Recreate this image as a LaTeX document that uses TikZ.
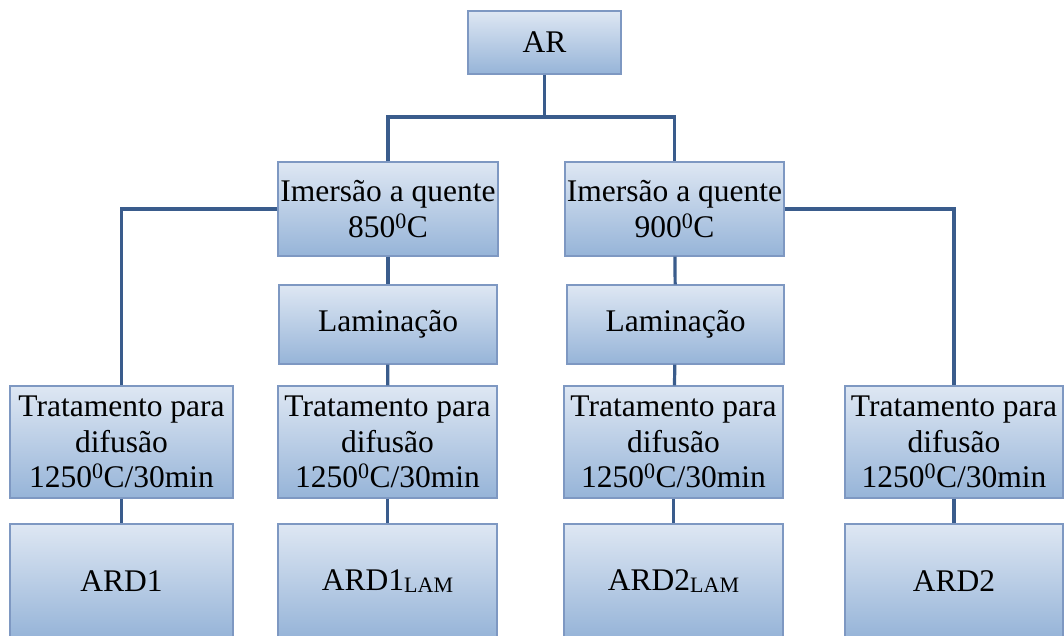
\documentclass[tikz,border=0pt]{standalone}
\usepackage{fontspec}
\setmainfont{Liberation Serif}
\definecolor{boxtop}{RGB}{222,231,243}
\definecolor{boxbot}{RGB}{150,180,216}
\definecolor{boxline}{RGB}{126,152,194}
\definecolor{conn}{RGB}{58,92,140}
\newcommand{\lamsub}{\raisebox{-2.5pt}{\fontsize{22}{24}\selectfont LAM}}
\tikzset{
  blk/.style={draw=boxline, line width=1.2pt, top color=boxtop, bottom color=boxbot,
    rectangle, inner sep=0pt, align=center, font=\fontsize{31.5}{35.5}\selectfont},
  lnk/.style={draw=conn, line width=3.2pt}
}
\begin{document}
\begin{tikzpicture}[x=1pt,y=-1pt]
\useasboundingbox (0,0) rectangle (1064,635);
\clip (0,0) rectangle (1064,635);
% boxes
\node[blk, minimum width=153pt, minimum height=63pt] (ar) at (544.5,42.5) {AR};
\node[blk, minimum width=220pt, minimum height=94pt] (im1) at (388,209) {Imersão a quente\\850\textsuperscript{0}C};
\node[blk, minimum width=219pt, minimum height=94pt] (im2) at (674.5,209) {Imersão a quente\\900\textsuperscript{0}C};
\node[blk, minimum width=218pt, minimum height=79pt] (lam1) at (388,324.5) {Laminação};
\node[blk, minimum width=217pt, minimum height=79pt] (lam2) at (675.5,324.5) {Laminação};
\node[blk, minimum width=223pt, minimum height=112pt] (tr1) at (121.5,442) {Tratamento para\\difusão\\1250\textsuperscript{0}C/30min};
\node[blk, minimum width=219pt, minimum height=112pt] (tr2) at (387.5,442) {Tratamento para\\difusão\\1250\textsuperscript{0}C/30min};
\node[blk, minimum width=219pt, minimum height=112pt] (tr3) at (673.5,442) {Tratamento para\\difusão\\1250\textsuperscript{0}C/30min};
\node[blk, minimum width=218pt, minimum height=112pt] (tr4) at (954,442) {Tratamento para\\difusão\\1250\textsuperscript{0}C/30min};
\node[blk, minimum width=223pt, minimum height=114pt] (ard1) at (121.5,581) {ARD1};
\node[blk, minimum width=219pt, minimum height=114pt] (ard1l) at (387.5,581) {ARD1\lamsub};
\node[blk, minimum width=219pt, minimum height=114pt] (ard2l) at (673.5,581) {ARD2\lamsub};
\node[blk, minimum width=218pt, minimum height=114pt] (ard2) at (954,581) {ARD2};
% connectors
\coordinate (j) at (544.5,117);
\draw[lnk] (ar.south) -- (j);
\draw[lnk] (im1.north) |- (j) -| (im2.north);
\draw[lnk] (im1) -- (lam1);
\draw[lnk] (im2) -- (lam2);
\draw[lnk] (lam1) -- (tr2);
\draw[lnk] (lam2) -- (tr3);
\draw[lnk] (im1.west) -| (tr1.north);
\draw[lnk] (im2.east) -| (tr4.north);
\draw[lnk] (tr1) -- (ard1);
\draw[lnk] (tr2) -- (ard1l);
\draw[lnk] (tr3) -- (ard2l);
\draw[lnk] (tr4) -- (ard2);
\end{tikzpicture}
\end{document}
